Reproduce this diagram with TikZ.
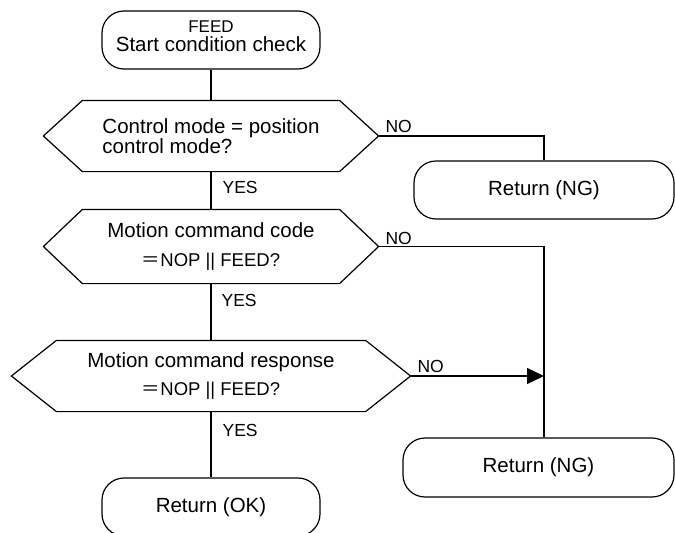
\documentclass[tikz,border=0pt]{standalone}
\usepackage{fontspec}
\setmainfont{Liberation Sans}
\newfontfamily\cjk{Noto Sans CJK JP}
\usetikzlibrary{arrows.meta}
\newcommand\hexashape[2]{\draw (#1.west) -- ([xshift=#2]#1.north west) -- ([xshift=-#2]#1.north east) -- (#1.east) -- ([xshift=-#2]#1.south east) -- ([xshift=#2]#1.south west) -- cycle;}
\begin{document}
\begin{tikzpicture}[x=1pt,y=-1pt,
  line width=1.2pt,
  term/.style={draw, rounded corners=22pt, minimum height=58pt, inner sep=0pt, align=center, font=\fontsize{20.5}{19}\selectfont},
  decbox/.style={inner sep=0pt, minimum height=70pt},
  lbl/.style={anchor=west, inner sep=0pt, font=\fontsize{17.5}{18}\selectfont},
  small/.style={font=\fontsize{18.5}{20}\selectfont}
]
\useasboundingbox (0,0) rectangle (675,533);

% terminals
\node[term, minimum width=218pt] (start) at (211,40) {{\fontsize{17}{19}\selectfont FEED}\\Start condition check\\[-12pt]\mbox{}};
\node[term, minimum width=260pt] (ng1) at (544,190) {Return (NG)};
\node[term, minimum width=271pt, minimum height=59pt] (ng2) at (538.5,467.5) {Return (NG)};
\node[term, minimum width=218pt] (ok) at (211,507) {Return (OK)};

% decisions
\node[decbox, minimum width=334pt, align=left, font=\fontsize{20.5}{20}\selectfont] (d1) at (211,136) {Control mode = position\\control mode?};
\hexashape{d1}{39}
\node[decbox, minimum width=334pt, minimum height=73pt, align=center, font=\fontsize{20.5}{29}\selectfont] (d2) at (211,246.5) {Motion command code\\{\fontsize{18.5}{29}\selectfont{\cjk ＝}NOP || FEED?}};
\hexashape{d2}{39}
\node[decbox, minimum width=398pt, align=center, font=\fontsize{20.5}{28}\selectfont] (d3) at (211,376) {Motion command response\\{\fontsize{18.5}{28}\selectfont{\cjk ＝}NOP || FEED?}};
\hexashape{d3}{45}

\coordinate (bus) at (544,0);

% connectors
\draw (start.south) -- (d1.north);
\draw (d1.south) -- (d2.north);
\draw (d2.south) -- (d3.north);
\draw (d3.south) -- (ok.north);
\draw (d1.east) -- (d1.east -| bus) -- (ng1.north -| bus);
\draw (d2.east) -- (d2.east -| bus) -- (ng2.north -| bus);
\draw[-{Triangle[length=17pt,width=16pt]}] (d3.east) -- (d3.east -| bus);

% labels
\node[lbl] (no1) at (385,126) {NO};
\node[lbl] (yes1) at (222,187) {YES};
\node[lbl] (no2) at (385,238) {NO};
\node[lbl] (yes2) at (221,300) {YES};
\node[lbl] (no3) at (417,366) {NO};
\node[lbl] (yes3) at (222,430) {YES};
\end{tikzpicture}
\end{document}
